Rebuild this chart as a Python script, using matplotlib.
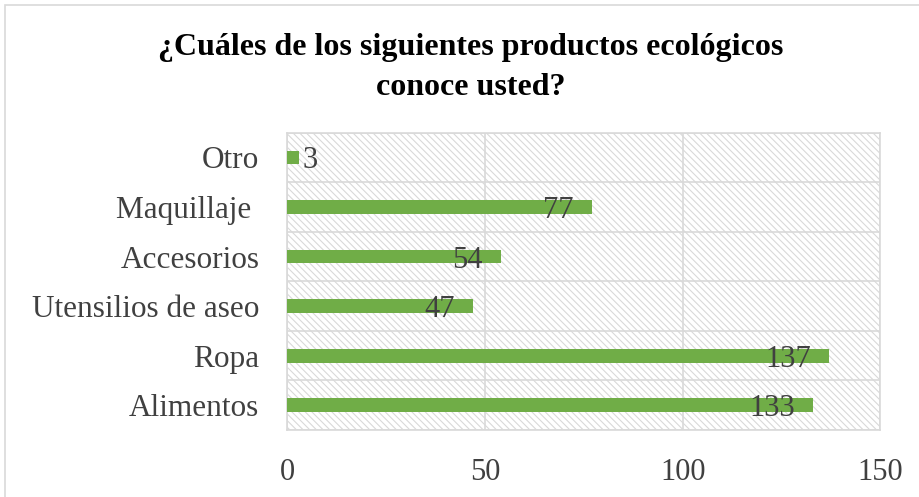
import matplotlib.pyplot as plt
from matplotlib.patches import Rectangle

categories = ['Alimentos', 'Ropa', 'Utensilios de aseo', 'Accesorios', 'Maquillaje ', 'Otro']
values = [133, 137, 47, 54, 77, 3]
xticks = [0, 50, 100, 150]

plt.rcParams['font.family'] = ['Liberation Serif', 'DejaVu Serif']
plt.rcParams['hatch.linewidth'] = 0.8
plt.rcParams['hatch.color'] = '#d9d9d9'

fig = plt.figure(figsize=(9.2, 4.97), dpi=100)
ax = fig.add_axes([0.312, 0.135, 0.645, 0.598])

# outer chart border
fig.patches.append(Rectangle((5 / 920, -0.05), 1.2, 1 - 5 / 497 + 0.05, transform=fig.transFigure,
                             fill=False, edgecolor='#d9d9d9', linewidth=1.2))

ax.patch.set_facecolor('white')
ax.patch.set_hatch('\\\\\\\\\\')
ax.patch.set_edgecolor('#d9d9d9')

ypos = list(range(len(categories)))
ax.barh(ypos, values, height=0.28, color='#70ad47', zorder=3)

for y, v in zip(ypos, values):
    if v < 10:
        ax.text(v + 0.8, y - 0.07, str(v), ha='left', va='center', fontsize=22, color='#404040', zorder=4)
    else:
        ax.text(v - 4.5, y - 0.07, str(v), ha='right', va='center', fontsize=22, color='#404040', zorder=4)

ax.set_xlim(0, 150)
ax.set_ylim(-0.5, len(categories) - 0.5)
ax.set_xticks(xticks)
ax.set_xticklabels([str(t) for t in xticks], fontsize=22, color='#404040')
ax.set_yticks(ypos)
ax.set_yticklabels(categories, fontsize=22.5, color='#404040')
ax.set_yticks([y + 0.5 for y in range(-1, len(categories))], minor=True)
ax.tick_params(axis='both', which='both', length=0)
ax.tick_params(axis='x', pad=20)
ax.tick_params(axis='y', pad=20)

ax.grid(axis='x', which='major', color='#d9d9d9', linewidth=1.2, zorder=1)
ax.grid(axis='y', which='minor', color='#d9d9d9', linewidth=1.2, zorder=1)
ax.set_axisbelow(True)
for s in ax.spines.values():
    s.set_color('#d9d9d9')
    s.set_linewidth(1.2)

fig.text(0.512, 0.865, '¿Cuáles de los siguientes productos ecológicos\nconoce usted?',
         ha='center', va='center', fontsize=23, fontweight='bold', linespacing=1.5)

fig.savefig('out.png', dpi=100)
